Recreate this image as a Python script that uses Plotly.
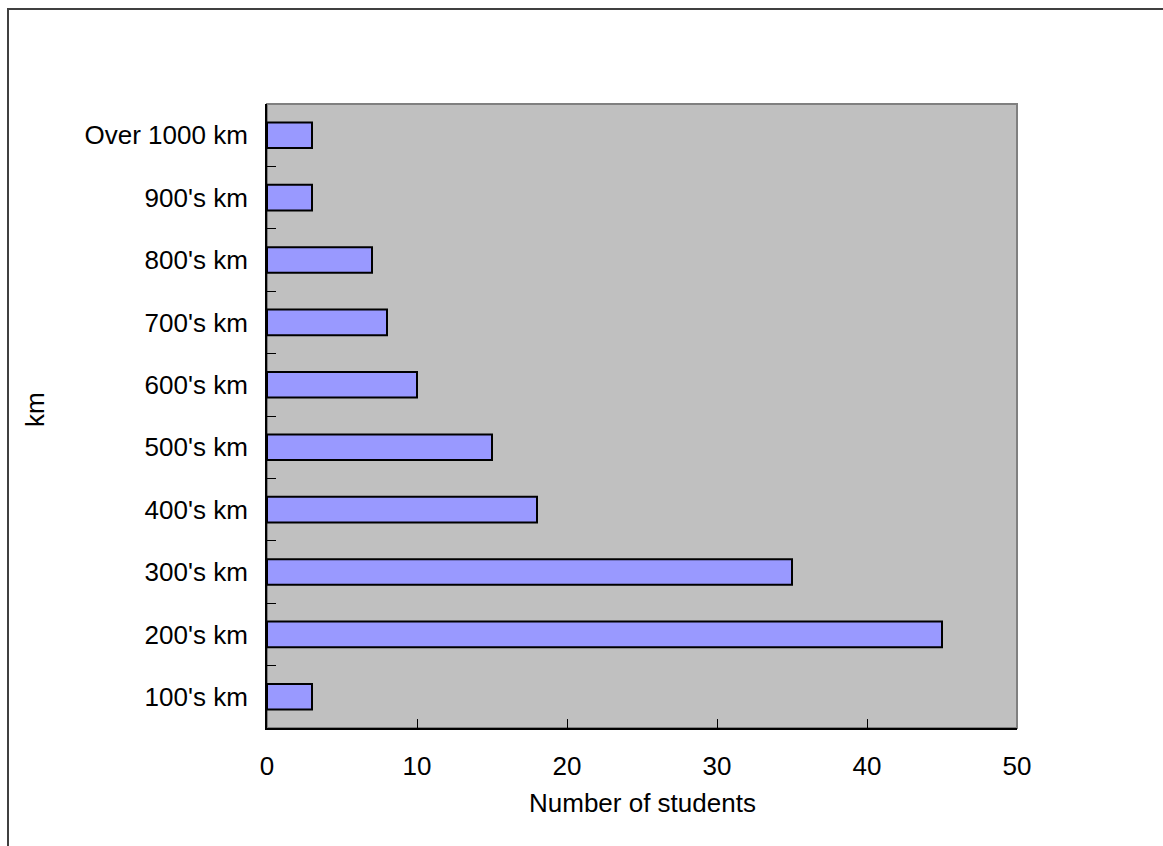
import plotly.graph_objects as go

# Distance bands (bottom to top) and student counts
distance_bands = ["100's km", "200's km", "300's km", "400's km", "500's km",
                  "600's km", "700's km", "800's km", "900's km", "Over 1000 km"]
student_counts = [3, 45, 35, 18, 15, 10, 8, 7, 3, 3]
x_ticks = [0, 10, 20, 30, 40, 50]

W, H = 1163, 846
ML, MR, MT, MB = 267, 146, 104, 118
PW, PH = W - ML - MR, H - MT - MB

FONT = "Liberation Sans, Arial, sans-serif"
FS = 26

fig = go.Figure(
    go.Bar(
        x=student_counts,
        y=distance_bands,
        orientation="h",
        width=0.41,
        marker=dict(color="#9999FF", line=dict(color="#000000", width=2)),
        hoverinfo="x+y",
    )
)


def px_x(p):
    return (p - ML) / PW


def px_y(p):
    return (H - MB - p) / PH


fig.update_layout(
    width=W,
    height=H,
    margin=dict(l=ML, r=MR, t=MT, b=MB),
    paper_bgcolor="#FFFFFF",
    plot_bgcolor="#C0C0C0",
    showlegend=False,
    font=dict(family=FONT, size=FS, color="#000000"),
    xaxis=dict(
        range=[0, 50],
        tickvals=x_ticks,
        ticks="inside",
        ticklen=9,
        tickwidth=1,
        tickcolor="#000000",
        showline=True,
        linecolor="#000000",
        linewidth=2,
        showgrid=False,
        zeroline=False,
        ticklabelstandoff=14,
        tickfont=dict(family=FONT, size=FS),
    ),
    yaxis=dict(
        type="category",
        categoryorder="array",
        categoryarray=distance_bands,
        range=[-0.5, len(distance_bands) - 0.5],
        tickson="boundaries",
        ticks="inside",
        ticklen=9,
        tickwidth=1,
        tickcolor="#000000",
        showline=True,
        linecolor="#000000",
        linewidth=2,
        showgrid=False,
        zeroline=False,
        ticklabelstandoff=12,
        tickfont=dict(family=FONT, size=FS),
    ),
    shapes=[
        # grey frame around the plotting area (top/right edges show)
        dict(type="rect", xref="paper", yref="paper", x0=0, x1=1, y0=0, y1=1,
             line=dict(color="#808080", width=2), fillcolor="rgba(0,0,0,0)",
             layer="below"),
        # outer chart-area border
        dict(type="rect", xref="paper", yref="paper",
             x0=px_x(8), x1=px_x(1300), y0=px_y(1000), y1=px_y(9),
             line=dict(color="#404040", width=2), fillcolor="rgba(0,0,0,0)"),
    ],
    annotations=[
        dict(text="Number of students", xref="paper", yref="paper",
             x=0.5, y=px_y(803), xanchor="center", yanchor="middle",
             showarrow=False, font=dict(family=FONT, size=FS)),
        dict(text="km", xref="paper", yref="paper",
             x=px_x(35), y=px_y(410), xanchor="center", yanchor="middle",
             textangle=-90, showarrow=False, font=dict(family=FONT, size=FS)),
    ],
)

fig.write_html("out.html")
